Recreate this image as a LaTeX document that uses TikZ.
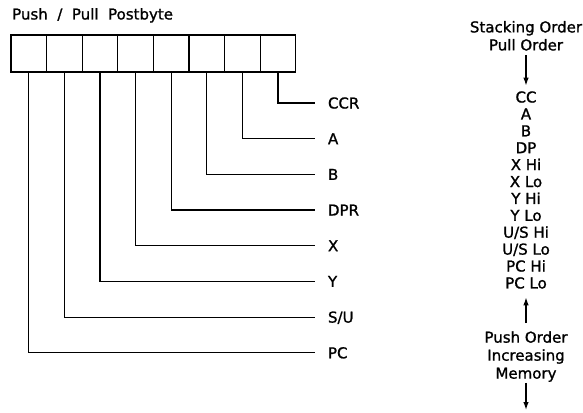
\documentclass[tikz,border=0pt]{standalone}
\usepackage{fontspec}
\setmainfont{DejaVu Sans}[FakeBold=1.2]
\usetikzlibrary{arrows.meta}
\begin{document}
\begin{tikzpicture}[x=1pt,y=-1pt,
  wire/.style={line width=1.2pt},
  cell/.style={draw, line width=1.3pt, minimum width=35.6pt, minimum height=37pt, inner sep=0pt},
  reglabel/.style={anchor=west, inner sep=0pt, outer xsep=13pt, text height=11pt, text depth=0pt,
                   font=\fontsize{15}{18}\selectfont},
  stacktext/.style={align=center, inner sep=0pt},
  arr/.style={line width=1.3pt, -{Latex[length=8pt,width=5.5pt]}}]
\useasboundingbox (0,0) rectangle (583,412);

% postbyte title and its eight bit cells
\node[anchor=base west, inner sep=0pt, font=\fontsize{15}{17}\selectfont] (title) at (12,19.5)
  {Push~~/~~Pull~~Postbyte};
\foreach \k in {1,...,8}
  \node[cell] (c\k) at ({11+35.6*(\k-0.5)},53.5) {};

% register names, one per bit
\node[reglabel] (lccr) at (315,103.0) {CCR};
\node[reglabel] (la)   at (315,138.7) {A};
\node[reglabel] (lb)   at (315,174.4) {B};
\node[reglabel] (ldpr) at (315,210.0) {DPR};
\node[reglabel] (lx)   at (315,245.7) {X};
\node[reglabel] (ly)   at (315,281.4) {Y};
\node[reglabel] (lsu)  at (315,317.1) {S/U};
\node[reglabel] (lpc)  at (315,352.8) {PC};

% leads from each bit to its register
\draw[wire] (c8.south) |- (lccr.west);
\draw[wire] (c7.south) |- (la.west);
\draw[wire] (c6.south) |- (lb.west);
\draw[wire] (c5.south) |- (ldpr.west);
\draw[wire] (c4.south) |- (lx.west);
\draw[wire] (c3.south) |- (ly.west);
\draw[wire] (c2.south) |- (lsu.west);
\draw[wire] (c1.south) |- (lpc.west);

% stacking order column
\node[stacktext, font=\fontsize{15}{18}\selectfont] (head) at (526,35.8)
  {Stacking Order\\Pull Order};
\node[stacktext, font=\fontsize{15}{16.9}\selectfont] (stack) at (526,190)
  {CC\\A\\B\\DP\\X~Hi\\X~Lo\\Y~Hi\\Y~Lo\\U/S~Hi\\U/S~Lo\\PC~Hi\\PC~Lo};
\node[stacktext, font=\fontsize{15}{18}\selectfont] (push) at (526,356.5)
  {Push Order\\Increasing\\Memory};
\coordinate (memend) at (526,410);

\draw[arr, shorten <=4.5pt, shorten >=5.5pt] (head.south) -- (stack.north);
\draw[arr, shorten <=8pt, shorten >=8.5pt] (push.north) -- (stack.south);
\draw[arr, shorten <=1pt] (push.south) -- (memend);
\end{tikzpicture}
\end{document}
